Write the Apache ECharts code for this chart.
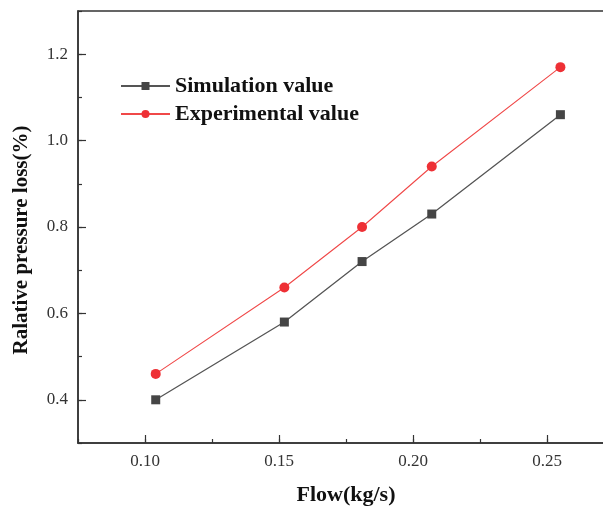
<!DOCTYPE html>
<html>
<head>
<meta charset="utf-8">
<script src="https://cdn.jsdelivr.net/npm/echarts@6/dist/echarts.min.js"></script>
<style>html,body{margin:0;padding:0;background:#fff;}#c{width:603px;height:506px;}</style>
</head>
<body>
<div id="c"></div>
<script>
const flow = [0.104, 0.152, 0.181, 0.207, 0.255];
const simulation = [0.40, 0.58, 0.72, 0.83, 1.06];
const experimental = [0.46, 0.66, 0.80, 0.94, 1.17];
const seriesNames = ['Simulation value', 'Experimental value'];
const xTickLabels = ['0.10', '0.15', '0.20', '0.25'];
const yTickLabels = ['0.4', '0.6', '0.8', '1.0', '1.2'];

const serif = '"Liberation Serif", "Times New Roman", serif';
const axisColor = '#333';

function pair(xs, ys) { return xs.map((x, i) => [x, ys[i]]); }

// main grid: x 0.075..0.275 over left 78 .. 614 ; y 0.3..1.3 over top 11 .. 443
const G = { left: 78, right: -11, top: 11, bottom: 63 };
const W = 603 - G.left - G.right, H = 506 - G.top - G.bottom;
const xMin = 0.075, xMax = 0.275, yMin = 0.3, yMax = 1.3;
const pxX = v => G.left + (v - xMin) / (xMax - xMin) * W;
const pxY = v => G.top + (yMax - v) / (yMax - yMin) * H;
// second grid spans exactly the labelled major ticks
const G2 = { left: pxX(0.10), right: 603 - pxX(0.25), top: pxY(1.2), bottom: 506 - pxY(0.4) };

const chart = echarts.init(document.getElementById('c'));
chart.setOption({
  animation: false,
  backgroundColor: '#fff',
  grid: [
    Object.assign({ show: true, borderColor: axisColor, borderWidth: 1.5, backgroundColor: 'transparent', outerBoundsMode: 'none', containLabel: false }, G),
    Object.assign({ show: false, outerBoundsMode: 'none', containLabel: false }, G2)
  ],
  legend: {
    orient: 'vertical', left: 120, top: 75, padding: 0, itemWidth: 49, itemHeight: 10, itemGap: 6,
    data: seriesNames,
    textStyle: { fontFamily: serif, fontWeight: 'bold', fontSize: 22, color: '#111', lineHeight: 22 }
  },
  xAxis: [
    {
      gridIndex: 0, type: 'value', min: xMin, max: xMax, interval: 0.025, position: 'bottom',
      name: 'Flow(kg/s)', nameLocation: 'middle', nameGap: 41,
      nameTextStyle: { fontFamily: serif, fontWeight: 'bold', fontSize: 22, color: '#111' },
      axisLine: { show: true, lineStyle: { color: axisColor, width: 1.5 } },
      axisTick: { show: true, inside: true, length: 4, lineStyle: { color: axisColor, width: 1.2 } },
      axisLabel: {
        margin: 10, fontFamily: serif, fontSize: 17, color: '#333',
        formatter: v => { const s = v.toFixed(2); return xTickLabels.indexOf(s) >= 0 ? s : ''; }
      },
      splitLine: { show: false }
    },
    {
      gridIndex: 1, type: 'value', min: 0.10, max: 0.25, interval: 0.05, position: 'bottom',
      offset: pxY(yMin) - pxY(0.4),
      axisLine: { show: false },
      axisTick: { show: true, inside: true, length: 8, lineStyle: { color: axisColor, width: 1.2 } },
      axisLabel: { show: false },
      splitLine: { show: false }
    }
  ],
  yAxis: [
    {
      gridIndex: 0, type: 'value', min: yMin, max: yMax, interval: 0.1, position: 'left',
      name: 'Ralative pressure loss(%)', nameLocation: 'middle', nameGap: 46,
      nameTextStyle: { fontFamily: serif, fontWeight: 'bold', fontSize: 21, color: '#111', padding: [0, 26, 0, 0] },
      axisLine: { show: true, lineStyle: { color: axisColor, width: 1.5 } },
      axisTick: { show: true, inside: true, length: 4, lineStyle: { color: axisColor, width: 1.2 } },
      axisLabel: {
        margin: 10, fontFamily: serif, fontSize: 17, color: '#333',
        formatter: v => { const s = v.toFixed(1); return yTickLabels.indexOf(s) >= 0 ? s : ''; }
      },
      splitLine: { show: false }
    },
    {
      gridIndex: 1, type: 'value', min: 0.4, max: 1.2, interval: 0.2, position: 'left',
      offset: pxX(0.10) - G.left,
      axisLine: { show: false },
      axisTick: { show: true, inside: true, length: 8, lineStyle: { color: axisColor, width: 1.2 } },
      axisLabel: { show: false },
      splitLine: { show: false }
    }
  ],
  series: [
    {
      name: seriesNames[0], type: 'line', xAxisIndex: 0, yAxisIndex: 0,
      data: pair(flow, simulation),
      symbol: 'rect', symbolSize: 9,
      itemStyle: { color: '#454545' },
      lineStyle: { color: '#555', width: 1.3 }
    },
    {
      name: seriesNames[1], type: 'line', xAxisIndex: 0, yAxisIndex: 0,
      data: pair(flow, experimental),
      symbol: 'circle', symbolSize: 10,
      itemStyle: { color: '#ee3035' },
      lineStyle: { color: '#f04848', width: 1.1 }
    }
  ]
});
</script>
</body>
</html>
